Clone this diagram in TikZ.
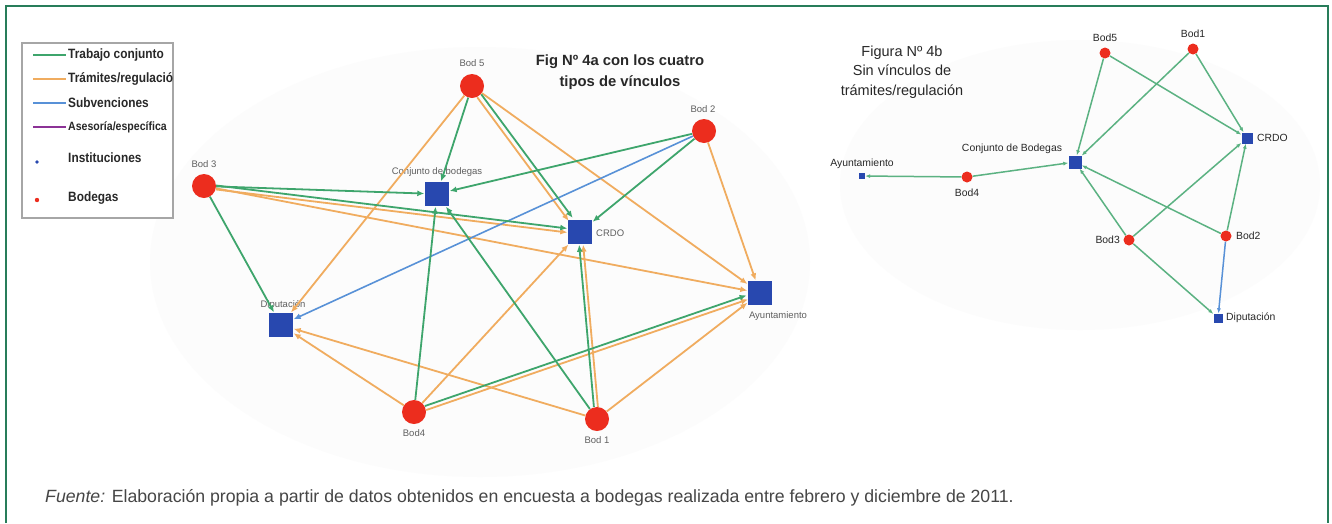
\documentclass[tikz,border=0pt]{standalone}
\usepackage{fontspec}
\setmainfont{Liberation Sans}
\newfontfamily\legfont[FakeStretch=0.88]{Liberation Sans}
\usetikzlibrary{arrows.meta}
\definecolor{egreen}{RGB}{62,165,108}
\definecolor{eorange}{RGB}{240,172,95}
\definecolor{eblue}{RGB}{88,145,215}
\definecolor{epurple}{RGB}{140,50,150}
\definecolor{nred}{RGB}{236,45,30}
\definecolor{nblue}{RGB}{40,72,175}
\definecolor{framegreen}{RGB}{40,125,90}
\definecolor{lblgray}{RGB}{95,95,95}
\definecolor{txtdark}{RGB}{40,40,40}
\definecolor{srcgray}{RGB}{70,70,70}
\tikzset{
  bodA/.style={circle, fill=nred, inner sep=0pt, minimum size=24pt},
  instA/.style={rectangle, fill=nblue, inner sep=0pt, minimum size=24pt},
  bodB/.style={circle, fill=nred, inner sep=0pt, minimum size=11pt},
  instB/.style={rectangle, fill=nblue, inner sep=0pt, minimum size=#1},
  lblA/.style={font=\fontsize{9.5}{11}\selectfont, text=lblgray, inner sep=0pt},
  lblB/.style={font=\fontsize{10.4}{12}\selectfont, text=txtdark, inner sep=0pt},
  tipA/.style={-{Latex[length=7pt,width=6pt]}},
  tipB/.style={-{Latex[length=5pt,width=4pt]}},
  gA/.style={draw=egreen, line width=1.8pt, tipA, shorten >=0.5pt},
  oA/.style={draw=eorange, line width=1.8pt, tipA, shorten >=0.5pt},
  bA/.style={draw=eblue, line width=1.6pt, tipA, shorten >=0.5pt},
  gB/.style={draw=egreen!85!white, line width=1.5pt, tipB},
  bB/.style={draw=eblue, line width=1.5pt, tipB},
  legline/.style={line width=1.4pt},
  legtext/.style={anchor=west, inner sep=0pt, font=\legfont\bfseries\fontsize{13.5}{15}\selectfont, text=txtdark},
  framestyle/.style={draw=framegreen, line width=2pt}
}
\begin{document}
\begin{tikzpicture}[x=1pt, y=-1pt]
\useasboundingbox (0,0) rectangle (1332,523);
\fill[white] (0,0) rectangle (1332,523);
% faint background shading
\fill[gray!2] (480,262) ellipse [x radius=330, y radius=215];
\fill[gray!2] (1080,185) ellipse [x radius=240, y radius=145];
% frame
\draw[framestyle] (6,523) -- (6,6) -- (1328,6) -- (1328,523);

% ---------------- legend ----------------
\draw[draw=gray!70, line width=1.5pt, fill=white] (22,43) rectangle (173,218);
\begin{scope}
\clip (23,44) rectangle (172,217);
\draw[legline, egreen] (33,55) -- (66,55);
\node[legtext] (lt1) at (68,55) {Trabajo conjunto};
\draw[legline, eorange] (33,79) -- (66,79);
\node[legtext] (lt2) at (68,79) {Trámites/regulación};
\draw[legline, eblue] (33,103) -- (66,103);
\node[legtext] (lt3) at (68,103) {Subvenciones};
\draw[legline, epurple] (33,127) -- (66,127);
\node[legtext, font=\legfont\bfseries\fontsize{12}{14}\selectfont] (lt4) at (68,127) {Asesoría/específica};
\fill[nblue] (37,162) circle (1.8);
\node[legtext] (lt5) at (68,158) {Instituciones};
\fill[nred] (37,200) circle (2.2);
\node[legtext] (lt6) at (68,198) {Bodegas};
\end{scope}

% ---------------- Figure 4a ----------------
\node[font=\bfseries\fontsize{14.8}{21}\selectfont, align=center, text=txtdark] (titA) at (620,72) {Fig Nº 4a con los cuatro\\tipos de vínculos};

\node[bodA] (b5) at (472,86) {};
\node[bodA] (b2) at (704,131) {};
\node[bodA] (b3) at (204,186) {};
\node[instA] (cj) at (437,194) {};
\node[instA] (crdo) at (580,232) {};
\node[instA] (ay) at (760,293) {};
\node[instA] (dip) at (281,325) {};
\node[bodA] (b4) at (414,412) {};
\node[bodA] (b1) at (597,419) {};

\node[lblA] (lb5) at (472,63) {Bod 5};
\node[lblA] (lb2) at (703,109) {Bod 2};
\node[lblA] (lb3) at (204,164) {Bod 3};
\node[lblA] (lcj) at (437,172) {Conjunto de bodegas};
\node[lblA, anchor=west] (lcrdo) at (596,233) {CRDO};
\node[lblA] (lay) at (778,316) {Ayuntamiento};
\node[lblA] (ldip) at (283,305) {Diputación};
\node[lblA] (lb4) at (414,433) {Bod4};
\node[lblA] (lb1) at (597,440) {Bod 1};

% orange edges
\draw[oA] (b5) -- (dip);
\draw[oA, transform canvas={shift={(-2pt,-1.5pt)}}] (b5) -- (crdo);
\draw[oA] (b5) -- (ay);
\draw[oA, transform canvas={shift={(0pt,-2pt)}}] (b3) -- (crdo);
\draw[oA] (b3) -- (ay);
\draw[oA] (b2) -- (ay);
\draw[oA] (b4) -- (crdo);
\draw[oA, transform canvas={shift={(0.7pt,-2pt)}}] (b4) -- (ay);
\draw[oA] (b4) -- (dip);
\draw[oA, transform canvas={shift={(2pt,0pt)}}] (b1) -- (crdo);
\draw[oA] (b1) -- (dip);
\draw[oA] (b1) -- (ay);
% blue edge
\draw[bA] (b2) -- (dip);
% green edges
\draw[gA] (b3) -- (cj);
\draw[gA, transform canvas={shift={(0pt,2pt)}}] (b3) -- (crdo);
\draw[gA] (b3) -- (dip);
\draw[gA] (b5) -- (cj);
\draw[gA, transform canvas={shift={(2pt,1.5pt)}}] (b5) -- (crdo);
\draw[gA] (b2) -- (cj);
\draw[gA] (b2) -- (crdo);
\draw[gA] (b4) -- (cj);
\draw[gA, transform canvas={shift={(-0.7pt,2pt)}}] (b4) -- (ay);
\draw[gA] (b1) -- (cj);
\draw[gA, transform canvas={shift={(-2pt,0pt)}}] (b1) -- (crdo);

% ---------------- Figure 4b ----------------
\node[font=\fontsize{14.5}{19.5}\selectfont, align=center, text=txtdark] (titB) at (902,72) {Figura Nº 4b\\Sin vínculos de\\trámites/regulación};

\node[bodB] (r5) at (1105,53) {};
\node[bodB] (r1) at (1193,49) {};
\node[instB=11pt] (rcrdo) at (1247,138) {};
\node[instB=13pt] (rcj) at (1075,162) {};
\node[instB=6pt] (ray) at (862,176) {};
\node[bodB] (r4) at (967,177) {};
\node[bodB] (r3) at (1129,240) {};
\node[bodB] (r2) at (1226,236) {};
\node[instB=9pt] (rdip) at (1218,318) {};

\node[lblB] (lr5) at (1105,38) {Bod5};
\node[lblB] (lr1) at (1193,34) {Bod1};
\node[lblB, anchor=west] (lrcrdo) at (1257,138) {CRDO};
\node[lblB] (lrcj) at (1012,149) {Conjunto de Bodegas};
\node[lblB] (lray) at (862,164) {Ayuntamiento};
\node[lblB] (lr4) at (967,193) {Bod4};
\node[lblB, anchor=east] (lr3) at (1120,240) {Bod3};
\node[lblB, anchor=west] (lr2) at (1236,236) {Bod2};
\node[lblB, anchor=west] (lrdip) at (1226,318) {Diputación};

\draw[gB] (r5) -- (rcj);
\draw[gB] (r5) -- (rcrdo);
\draw[gB] (r1) -- (rcj);
\draw[gB] (r1) -- (rcrdo);
\draw[gB] (r4) -- (ray);
\draw[gB] (r4) -- (rcj);
\draw[gB] (r3) -- (rcj);
\draw[gB] (r3) -- (rdip);
\draw[gB] (r3) -- (rcrdo);
\draw[gB] (r2) -- (rcj);
\draw[gB] (r2) -- (rcrdo);
\draw[bB] (r2) -- (rdip);

% ---------------- source ----------------
\node[anchor=west, inner sep=0pt, font=\fontsize{17.7}{20}\selectfont, text=srcgray] (src) at (45,498) {\textit{Fuente:} Elaboración propia a partir de datos obtenidos en encuesta a bodegas realizada entre febrero y diciembre de 2011.};
\end{tikzpicture}
\end{document}
